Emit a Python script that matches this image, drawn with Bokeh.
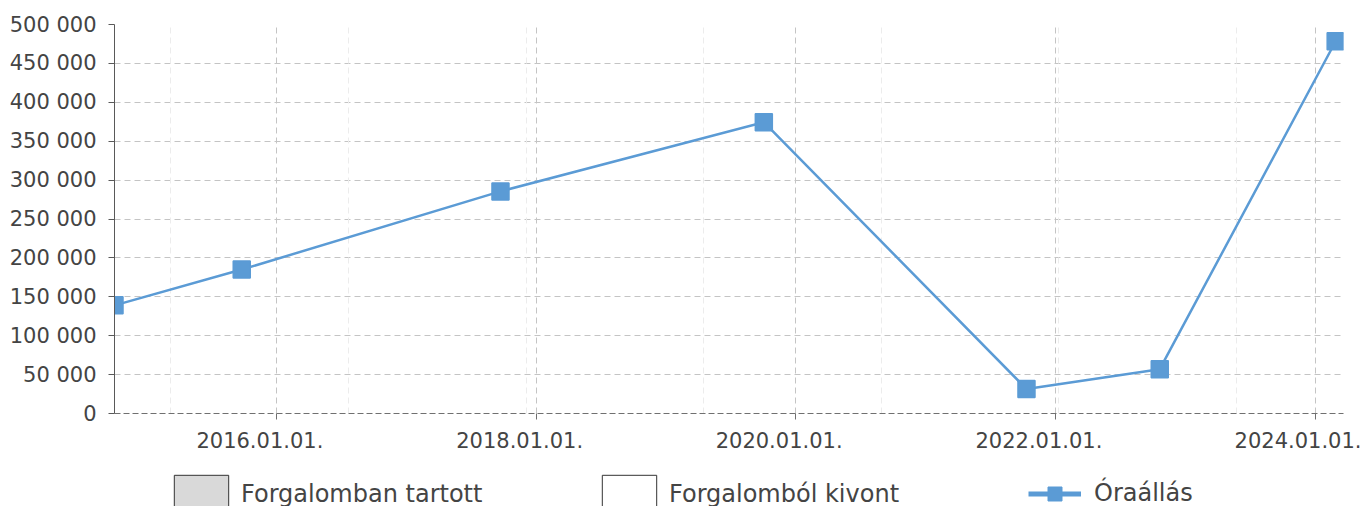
import pandas as pd
from bokeh.plotting import figure
from bokeh.layouts import column
from bokeh.models import (Range1d, FixedTicker, DatetimeTickFormatter, CustomJSTickFormatter,
                          Grid, Legend, LegendItem)
from bokeh.embed import file_html
from bokeh.resources import INLINE

# ---- data ----
dates = ["2014-10-02", "2015-09-25", "2017-09-22", "2019-10-03",
         "2021-10-11", "2022-10-21", "2024-02-28"]
values = [139000, 185000, 285500, 374500, 31500, 57000, 478500]

y_ticks = [0, 50000, 100000, 150000, 200000, 250000, 300000, 350000, 400000, 450000, 500000]
x_ticks = ["2016-01-01", "2018-01-01", "2020-01-01", "2022-01-01", "2024-01-01"]
x_tick_labels = ["2016.01.01.", "2018.01.01.", "2020.01.01.", "2022.01.01.", "2024.01.01."]
minor_lines = ["2015-03-09", "2016-07-21", "2017-12-03", "2019-04-16",
               "2020-08-28", "2022-01-10", "2023-05-25"]
x_start, x_end = "2014-10-02", "2024-03-21"
legend_labels = ["Forgalomban tartott", "Forgalomból kivont", "Óraállás"]

BLUE = "#5b9bd5"
TXT = "#444444"
FONT = "DejaVu Sans"
PAD = "\u00a0" * 5   # labels sit slightly left of their tick in the original


def ms(s):
    return pd.Timestamp(s).value // 10**6


x_ms = [ms(d) for d in dates]
tick_ms = [ms(t) for t in x_ticks]

p = figure(width=1361, height=456, x_axis_type="datetime", output_backend="svg",
           toolbar_location=None,
           x_range=Range1d(ms(x_start), ms(x_end)), y_range=Range1d(0, 500000),
           min_border_left=114, min_border_right=18, min_border_top=24, min_border_bottom=43)
p.outline_line_color = None
p.background_fill_color = "white"
p.border_fill_color = "white"

# grids
p.xgrid.ticker = FixedTicker(ticks=tick_ms)
p.xgrid.grid_line_color = "#c4c4c4"
p.xgrid.grid_line_dash = "6 4"
p.ygrid.ticker = FixedTicker(ticks=y_ticks)
p.ygrid.grid_line_color = "#c4c4c4"
p.ygrid.grid_line_dash = "6 4"
minor = Grid(dimension=0, ticker=FixedTicker(ticks=[ms(t) for t in minor_lines]),
             grid_line_color="#ececec", grid_line_dash="6 4")
p.add_layout(minor)

# axes
p.xaxis.ticker = FixedTicker(ticks=tick_ms)
fmt = "%Y.%m.%d."
p.xaxis.formatter = DatetimeTickFormatter(years=fmt, months=fmt, days=fmt, hours=fmt,
                                          minutes=fmt, seconds=fmt, milliseconds=fmt,
                                          microseconds=fmt, minsec=fmt, hourmin=fmt)
overrides = {}
for i, (t, lab) in enumerate(zip(tick_ms, x_tick_labels)):
    overrides[t] = lab + (PAD if i < len(tick_ms) - 1 else "")
p.xaxis.major_label_overrides = overrides
p.xaxis.axis_line_color = "#707070"
p.xaxis.axis_line_dash = "6 3"
p.xaxis.major_tick_line_color = "#707070"
p.xaxis.major_tick_out = 6
p.xaxis.major_tick_in = 0
p.xaxis.minor_tick_line_color = None
p.xaxis.major_label_standoff = 9

p.yaxis.ticker = FixedTicker(ticks=y_ticks)
p.yaxis.formatter = CustomJSTickFormatter(
    code="return Math.round(tick).toString().replace(/\\B(?=(\\d{3})+(?!\\d))/g, ' ');")
p.yaxis.axis_line_color = "#595959"
p.yaxis.major_tick_line_color = "#595959"
p.yaxis.major_tick_out = 6
p.yaxis.major_tick_in = 0
p.yaxis.minor_tick_line_color = None
p.yaxis.major_label_standoff = 12

for ax in (p.xaxis, p.yaxis):
    ax.major_label_text_font = FONT
    ax.major_label_text_font_size = "21px"
    ax.major_label_text_color = TXT

# series
p.line(x=x_ms, y=values, line_color=BLUE, line_width=2.5)
p.scatter(x=x_ms, y=values, marker="square", size=17, fill_color=BLUE, line_color=BLUE,
          line_width=1.5)

# ---- legend strip (separate figure below the chart) ----
# same x range as the chart; its y range lies just below 0, so the proxy data stays out of view
q = figure(width=1361, height=50, output_backend="svg", toolbar_location=None,
           x_axis_type="datetime",
           x_range=Range1d(ms(x_start), ms(x_end)), y_range=Range1d(-1000000, -500000),
           x_axis_location=None, y_axis_location=None,
           min_border_left=114, min_border_right=18, min_border_top=0, min_border_bottom=0)
q.grid.visible = False
q.outline_line_color = None
q.background_fill_color = "white"
q.border_fill_color = "white"

r_in = q.patch(x=x_ms, y=values, fill_color="#d9d9d9", line_color="#333333", line_width=1)
r_out = q.patch(x=x_ms, y=values, fill_color="white", line_color="#333333", line_width=1)
r_line = q.line(x=x_ms, y=values, line_color=BLUE, line_width=5)
r_mark = q.scatter(x=x_ms, y=values, marker="square", fill_color=BLUE, line_color=BLUE)

common = dict(orientation="horizontal", padding=0, margin=0, border_line_color=None,
              background_fill_alpha=0, label_text_font=FONT, label_text_font_size="24px",
              label_text_color=TXT)
leg1 = Legend(items=[LegendItem(label=legend_labels[0], renderers=[r_in])],
              location=(53, -12), glyph_width=68, glyph_height=48, label_standoff=6, **common)
leg2 = Legend(items=[LegendItem(label=legend_labels[1], renderers=[r_out])],
              location=(481, -12), glyph_width=68, glyph_height=48, label_standoff=6, **common)
leg3 = Legend(items=[LegendItem(label=legend_labels[2], renderers=[r_line, r_mark])],
              location=(914, -4.5), glyph_width=53, glyph_height=35, label_standoff=13, **common)
for lg in (leg1, leg2, leg3):
    q.add_layout(lg)

layout = column(p, q, spacing=0)
open("out.html", "w").write(file_html(layout, INLINE))
